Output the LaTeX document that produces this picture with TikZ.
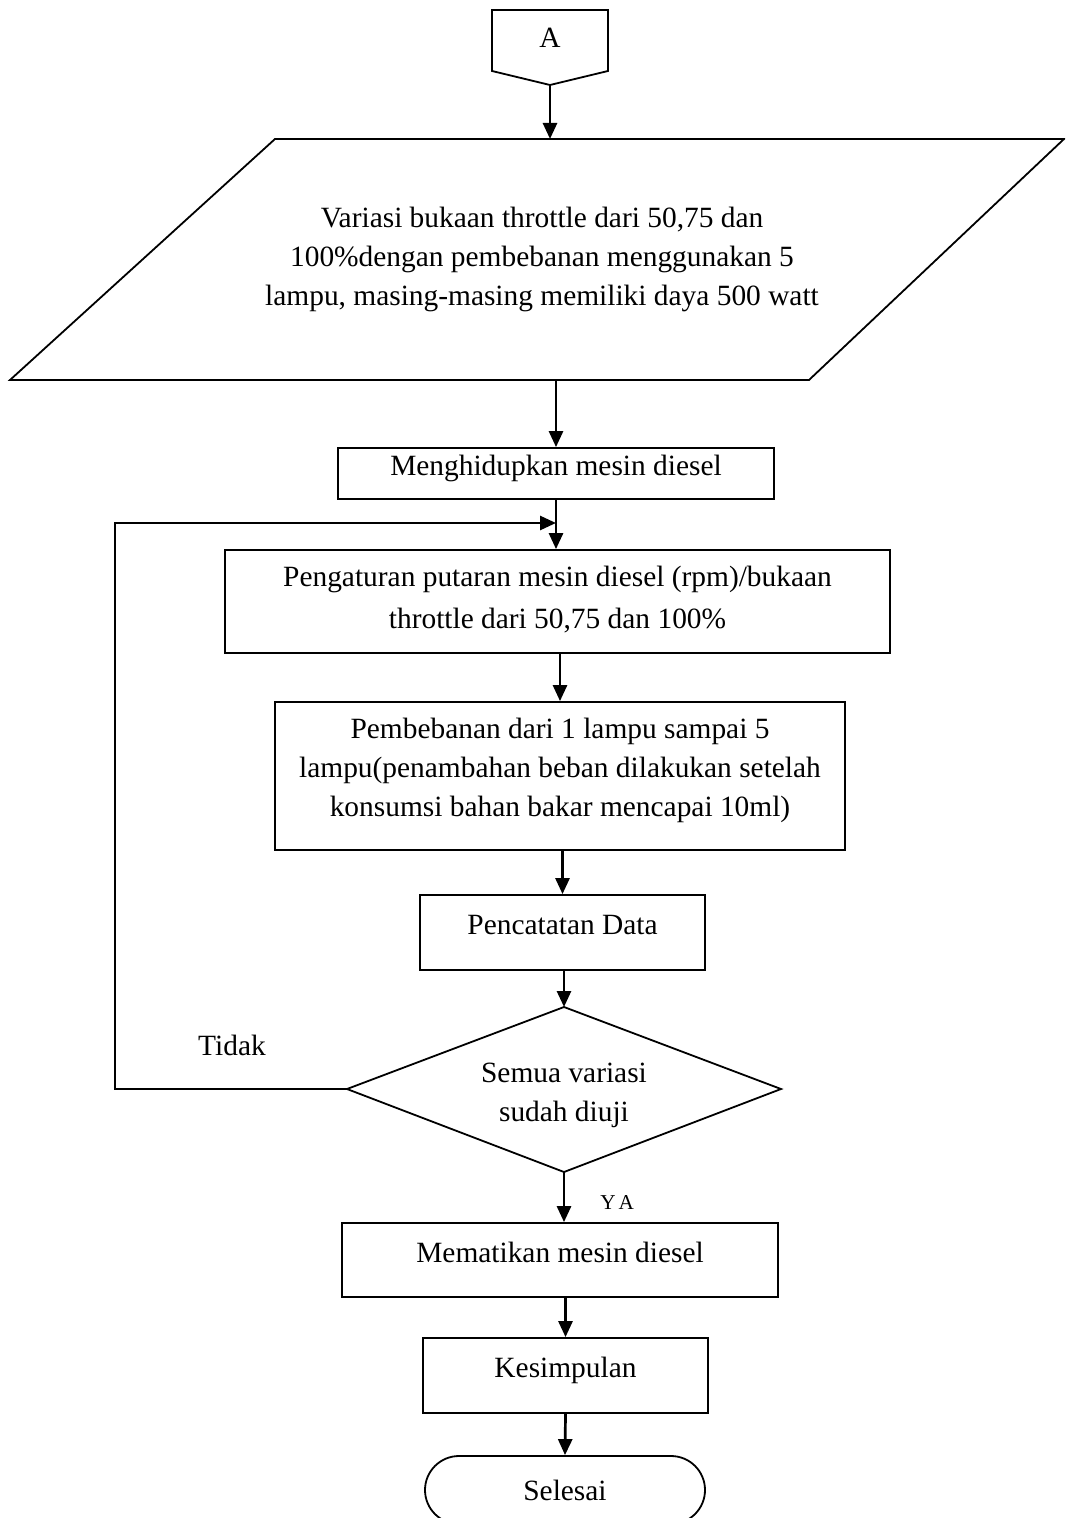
\documentclass[tikz,border=0pt]{standalone}
\usepackage{fontspec}
\setmainfont{Liberation Serif}
\usetikzlibrary{arrows.meta,shapes.misc}
\newcommand\lowstrut[1]{\rule[-#1]{0pt}{#1}}
\begin{document}
\begin{tikzpicture}[x=0.5pt,y=-0.5pt,
  font=\fontsize{14.7pt}{19.5pt}\selectfont,
  box/.style={draw,line width=0.9pt,inner sep=0pt,align=center},
  onel/.style={text height=10.2pt,text depth=8.2pt},
  shp/.style={draw,line width=0.9pt,line join=miter},
  arr/.style={line width=1.35pt,-{Triangle[length=8pt,width=7pt]}},
  lbl/.style={inner sep=0pt}]
\useasboundingbox (0,0) rectangle (1065,1518);
\clip (0,0) rectangle (1065,1518);

% off-page connector A
\draw[shp] (492,10) -- (608,10) -- (608,71) -- (550,85) -- (492,71) -- cycle;
\node[lbl] (A) at (550,38) {A};
\coordinate (Apt) at (550,85);
\coordinate (pTop) at (550,139);
\draw[arr] (Apt) -- (pTop);

% parallelogram
\draw[shp] (275,139) -- (1064,139) -- (809,380) -- (10,380) -- cycle;
\node[lbl,align=center] (par) at (542,259) {Variasi bukaan throttle dari 50,75 dan\\100\%dengan pembebanan menggunakan 5\\lampu, masing-masing memiliki daya 500 watt};
\coordinate (pBot) at (556,380);

% boxes
\node[box,onel,minimum width=218pt,minimum height=25.5pt] (mh) at (556,473.5) {Menghidupkan mesin diesel};
\draw[arr] (pBot) -- (mh.north);

\node[box,minimum width=332.5pt,minimum height=51.5pt] (pg) at (557.5,601.5) {Pengaturan putaran mesin diesel (rpm)/bukaan\\[1.5pt]throttle dari 50,75 dan 100\%\lowstrut{4.2pt}};
\draw[arr] (mh.south) -- (mh.south |- pg.north);

\node[box,minimum width=285pt,minimum height=74pt] (pb) at (560,776) {Pembebanan dari 1 lampu sampai 5\\lampu(penambahan beban dilakukan setelah\\konsumsi bahan bakar mencapai 10ml)\lowstrut{9pt}};
\draw[arr] (pg.south -| pb.north) -- (pb.north);

\node[box,onel,minimum width=142.5pt,minimum height=37.5pt] (pc) at (562.5,932.5) {Pencatatan Data};
\draw[arr] (pc.north |- pb.south) -- (pc.north);

% decision
\draw[shp] (564,1007) -- (781,1089) -- (564,1172) -- (347,1089) -- cycle;
\node[lbl,align=center] (dec) at (564,1095) {Semua variasi\\sudah diuji};
\coordinate (dT) at (564,1007);
\coordinate (dB) at (564,1172);
\coordinate (dL) at (347,1089);
\draw[arr] (pc.south -| dT) -- (dT);

\node[box,onel,minimum width=218pt,minimum height=37pt] (mt) at (560,1260) {Mematikan mesin diesel};
\draw[arr] (dB) -- (dB |- mt.north);
\node[lbl,anchor=base west,font=\fontsize{10.6pt}{12pt}\selectfont] (ya) at (600,1209) {Y\kern1.5pt A};

\node[box,onel,minimum width=142.5pt,minimum height=37.5pt] (ks) at (565.5,1375.5) {Kesimpulan};
\draw[arr] (mt.south -| ks.north) -- (ks.north);

\node[draw,rounded rectangle,line width=0.9pt,minimum width=140pt,minimum height=34pt,inner sep=0pt] (sl) at (565,1490) {Selesai};
\draw[arr] (ks.south) -- (sl.north);

% loop back
\coordinate (lc) at (115,523);
\coordinate (loopin) at (556,523);
\draw[arr] (dL) -| (lc) -- (loopin);
\node[lbl,anchor=base] (td) at (232,1055) {Tidak};
\end{tikzpicture}
\end{document}
